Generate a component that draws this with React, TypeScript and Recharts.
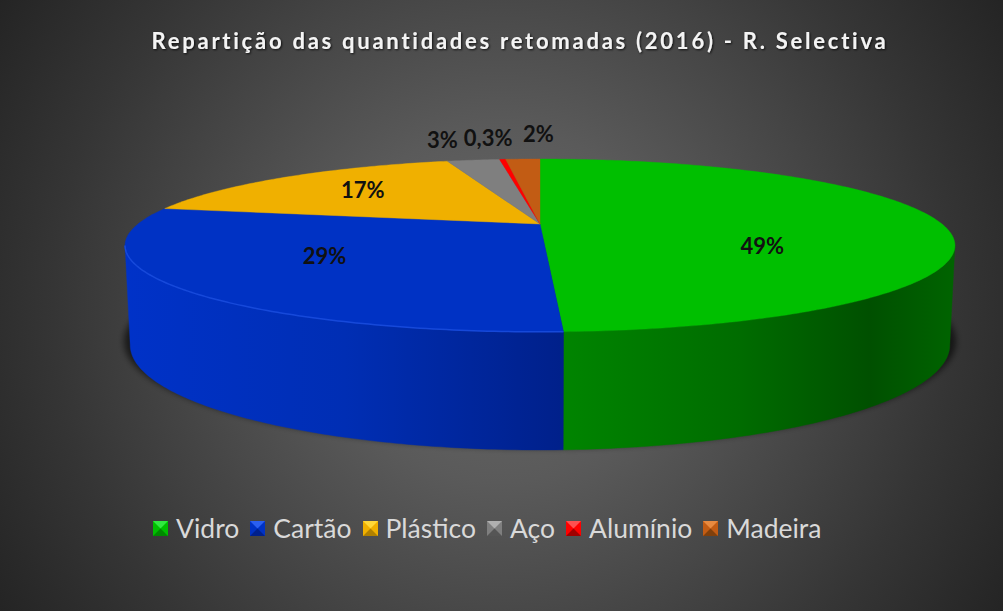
import React from "react";
import { PieChart, Pie, Legend } from "recharts";

const categories = ["Vidro", "Cartão", "Plástico", "Aço", "Alumínio", "Madeira"];
const shares = [49.3, 28.9, 17.2, 2.6, 0.3, 1.7];
const shareLabels = ["49%", "29%", "17%", "3%", "0,3%", "2%"];
const colors = ["#00bf00", "#0032c4", "#f0b000", "#7f7f7f", "#ff0000", "#c25c14"];
const lightColors = ["#30e840", "#2a5ff0", "#ffd838", "#b0b0b0", "#ff5050", "#e88a40"];
const darkColors = ["#008a00", "#00208c", "#b08000", "#555555", "#a00000", "#80400c"];
const title = "Repartição das quantidades retomadas (2016) - R. Selectiva";

// layout of the projected disc
const HUB_X = 540;
const HUB_Y = 224;
const RADIUS = 402;
const TILT = 81.1 / 402;
const PERSPECTIVE = 0.248;
const LOWER_DROP = 95;
const LOWER_SCALE = 397 / 402;
const LOWER_TILT = 98.5 / 397;
// the rim faces the viewer only between these two angles
const FRONT_FROM = (-Math.asin(PERSPECTIVE) * 180) / Math.PI;
const FRONT_TO = -180 - FRONT_FROM;

// label placement: radial fraction and pixel nudge for each slice
const labelFractions = [0.55, 0.55, 0.55, 1, 1, 1];
const labelNudgeX = [2, -31, -28, -31, -14.5, 15.5];
const labelNudgeY = [22, 0, -7, -21, -22, -26];

const data = categories.map((name, i) => ({ name, value: shares[i], fill: colors[i] }));

const rad = (d: number) => (d * Math.PI) / 180;

function project(cx: number, cy: number, r: number, deg: number, f = 1, tilt = TILT) {
  const u = Math.cos(rad(deg)) * f;
  const v = Math.sin(rad(deg)) * f;
  const den = 1 + PERSPECTIVE * v;
  return [cx + (r * u) / den, cy - (r * tilt * v) / den];
}

function arcPoints(cx: number, cy: number, r: number, a0: number, a1: number, tilt = TILT) {
  const n = Math.max(2, Math.ceil(Math.abs(a1 - a0) / 0.75));
  const pts: number[][] = [];
  for (let i = 0; i <= n; i++) pts.push(project(cx, cy, r, a0 + ((a1 - a0) * i) / n, 1, tilt));
  return pts;
}

const toPath = (pts: number[][]) =>
  pts.map((p, i) => `${i ? "L" : "M"}${p[0].toFixed(2)} ${p[1].toFixed(2)}`).join(" ");

function ShadowShape(props: any) {
  const { cx, cy, outerRadius, startAngle, endAngle } = props;
  const pts = arcPoints(cx, cy + LOWER_DROP - 4, outerRadius * LOWER_SCALE + 6, startAngle, endAngle, LOWER_TILT);
  return <path d={toPath(pts) + ` L${cx} ${cy + LOWER_DROP} Z`} fill="#000" fillOpacity={0.6} filter="url(#pieShadow)" />;
}

function WallShape(props: any) {
  const { cx, cy, outerRadius, startAngle, endAngle, name } = props;
  const a0 = Math.min(startAngle, FRONT_FROM);
  const a1 = Math.max(endAngle, FRONT_TO);
  if (a0 <= a1) return <g />;
  const top = arcPoints(cx, cy, outerRadius, a0, a1);
  const low = arcPoints(cx, cy + LOWER_DROP, outerRadius * LOWER_SCALE, a0, a1, LOWER_TILT).reverse();
  const i = categories.indexOf(name);
  const fill = i === 0 ? "url(#wallGreen)" : i === 1 ? "url(#wallBlue)" : darkColors[i];
  return <path d={toPath(top.concat(low)) + " Z"} fill={fill} stroke={fill} strokeWidth={0.4} />;
}

function TopShape(props: any) {
  const { cx, cy, outerRadius, startAngle, endAngle, fill, name } = props;
  const arc = arcPoints(cx, cy, outerRadius, startAngle, endAngle);
  const i = categories.indexOf(name);
  const rim = arcPoints(cx, cy, outerRadius, Math.min(startAngle, FRONT_FROM), Math.max(endAngle, FRONT_TO));
  return (
    <g>
      <path d={toPath(arc) + ` L${cx} ${cy} Z`} fill={fill} stroke={fill} strokeWidth={0.4} />
      {i === 1 && <path d={toPath(rim)} fill="none" stroke="#1a4de0" strokeOpacity={0.85} strokeWidth={1.5} />}
    </g>
  );
}

function SliceLabel(props: any) {
  const { cx, cy, outerRadius, midAngle, index } = props;
  const [x, y] = project(cx, cy, outerRadius, midAngle, labelFractions[index]);
  return (
    <text
      x={x + labelNudgeX[index]}
      y={y + labelNudgeY[index]}
      textAnchor="middle"
      dominantBaseline="central"
      fontFamily="Lato"
      fontWeight={700}
      fontSize={22}
      fill="#111"
    >
      {shareLabels[index]}
    </text>
  );
}

function Bevel({ i }: { i: number }) {
  return (
    <svg width={15} height={15} style={{ display: "block", flex: "none" }}>
      <rect width={15} height={15} fill={colors[i]} />
      <polygon points="0,0 15,0 7.5,7.5" fill={lightColors[i]} />
      <polygon points="0,15 15,15 7.5,7.5" fill={darkColors[i]} />
    </svg>
  );
}

function LegendRow() {
  return (
    <div
      style={{
        display: "flex",
        justifyContent: "flex-start",
        alignItems: "center",
        paddingLeft: 153,
        fontFamily: "Lato",
        fontSize: 26.5,
        lineHeight: "34px",
        color: "#d9d9d9",
      }}
    >
      {categories.map((c, i) => (
        <div key={c} style={{ display: "flex", alignItems: "center", marginRight: 11 }}>
          <Bevel i={i} />
          <span style={{ marginLeft: 8 }}>{c}</span>
        </div>
      ))}
    </div>
  );
}

const pieProps = {
  data,
  dataKey: "value",
  nameKey: "name",
  cx: HUB_X,
  cy: HUB_Y,
  outerRadius: RADIUS,
  innerRadius: 0,
  startAngle: 90,
  endAngle: -270,
  stroke: "none",
  isAnimationActive: false,
  rootTabIndex: -1,
};

export default function App() {
  return (
    <div
      style={{
        position: "absolute",
        left: 0,
        top: 0,
        width: 1003,
        height: 611,
        overflow: "hidden",
        background:
          "radial-gradient(circle 590px at 50% 50%, #6a6a6a 0%, #5a5a5a 30%, #353535 76%, #242424 100%)",
      }}
    >
      <PieChart width={1003} height={611} margin={{ top: 0, right: 0, bottom: 0, left: 0 }}>
        <defs>
          <filter id="pieShadow" x="-10%" y="-10%" width="120%" height="130%">
            <feGaussianBlur stdDeviation="3" />
          </filter>
          <filter id="titleShadow" x="-5%" y="-50%" width="110%" height="200%">
            <feDropShadow dx="1" dy="1" stdDeviation="1" floodColor="#000" floodOpacity="0.8" />
          </filter>
          <linearGradient id="wallGreen" gradientUnits="userSpaceOnUse" x1="565" y1="0" x2="955" y2="0">
            <stop offset="0" stopColor="#008400" />
            <stop offset="0.45" stopColor="#006c00" />
            <stop offset="0.78" stopColor="#005000" />
            <stop offset="1" stopColor="#006400" />
          </linearGradient>
          <linearGradient id="wallBlue" gradientUnits="userSpaceOnUse" x1="125" y1="0" x2="565" y2="0">
            <stop offset="0" stopColor="#0032c8" />
            <stop offset="0.5" stopColor="#002eb4" />
            <stop offset="1" stopColor="#00208a" />
          </linearGradient>
        </defs>
        <text
          x={520}
          y={40}
          textAnchor="middle"
          dominantBaseline="central"
          fontFamily="Lato"
          fontWeight={700}
          fontSize={22}
          letterSpacing={2.75}
          fill="#f4f4f4"
          filter="url(#titleShadow)"
        >
          {title}
        </text>
        <Pie {...pieProps} legendType="none" shape={ShadowShape} />
        <Pie {...pieProps} legendType="none" shape={WallShape} />
        <Pie {...pieProps} shape={TopShape} label={SliceLabel} labelLine={false} />
        <Legend
          content={() => <LegendRow />}
          wrapperStyle={{ position: "absolute", left: 0, top: 511, width: 1003 }}
        />
      </PieChart>
    </div>
  );
}
